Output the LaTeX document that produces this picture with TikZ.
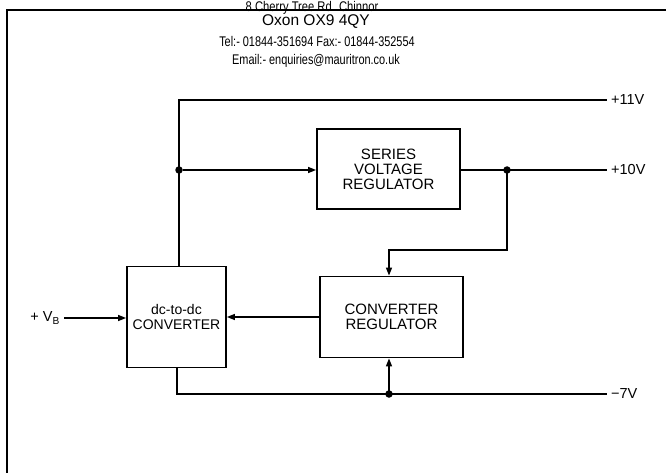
\documentclass[tikz,border=0pt]{standalone}
\usepackage{fontspec}
\setmainfont{Liberation Sans}
\usetikzlibrary{arrows.meta}
\begin{document}
\begin{tikzpicture}[x=1pt,y=-1pt,
  blk/.style={draw,line width=1.8pt,inner sep=0pt,align=center,font=\fontsize{15}{15}\selectfont},
  wire/.style={line width=1.4pt},
  arr/.style={wire,-{Triangle[length=8pt,width=6pt]}},
  jdot/.style={circle,fill,inner sep=0pt,minimum size=7.5pt},
  lbl/.style={anchor=west,font=\fontsize{14.5}{15}\selectfont,inner sep=0pt},
  hdr/.style={inner sep=0pt},
  frame/.style={line width=1.8pt}
]
\useasboundingbox (0,0) rectangle (666,473);
% frame
\coordinate (fa) at (7,473);
\coordinate (fb) at (7,10);
\coordinate (fc) at (666,10);
\draw[frame] (fa) -- (fb) -- (fc);
% header
\node[hdr,anchor=base] (h0) at (312,12) {\fontsize{14}{15}\selectfont\scalebox{0.8}[1]{8 Cherry Tree Rd. Chinnor}};
\node[hdr] (h1) at (316,22) {\fontsize{15.5}{16}\selectfont Oxon OX9 4QY};
\node[hdr] (h2) at (317,41) {\fontsize{14}{15}\selectfont\scalebox{0.78}[1]{Tel:- 01844-351694 Fax:- 01844-352554}};
\node[hdr] (h3) at (316,61) {\fontsize{14}{15}\selectfont\scalebox{0.78}[1]{Email:- enquiries@mauritron.co.uk}};
% blocks
\node[blk,minimum width=143pt,minimum height=80pt] (ser) at (388.5,169) {SERIES\\VOLTAGE\\REGULATOR};
\node[blk,minimum width=143pt,minimum height=81pt] (conv) at (391.5,317) {CONVERTER\\REGULATOR};
\node[blk,minimum width=99pt,minimum height=101pt,font=\fontsize{14}{15}\selectfont] (dc) at (176.5,317) {dc-to-dc\\CONVERTER};
% coordinates
\coordinate (t11) at (179,100);
\coordinate (e11) at (607,100);
\coordinate (e10) at (607,170);
\coordinate (c389) at (389,250);
\coordinate (b177) at (177,394);
\coordinate (e7) at (607,394);
\node[jdot] (j1) at (179,170) {};
\node[jdot] (j2) at (507,170) {};
\node[jdot] (j3) at (389,394) {};
% +11V line
\draw[wire] (dc.north -| t11) -- (t11) -- (e11);
\draw[arr] (j1) -- (j1 -| ser.west);
% +10V line
\draw[wire] (j2 -| ser.east) -- (e10);
\draw[arr] (j2.center) |- (c389) -- (c389 |- conv.north);
% converter regulator to dc-to-dc
\draw[arr] (conv.west) -- (dc.west -| dc.east);
% VB input
\node[anchor=east,inner sep=0pt,font=\fontsize{14.5}{15}\selectfont] (vb) at (60,318) {+ V\textsubscript{B}};
\draw[arr] (vb.east) ++(4,0) coordinate (vbs) -- (vbs -| dc.west);
% -7V line
\draw[wire] (dc.south -| b177) -- (b177) -- (e7);
\draw[arr] (j3.center) -- (j3 |- conv.south);
% labels
\node[lbl] (l11) at (611,100) {+11V};
\node[lbl] (l10) at (611,170) {+10V};
\node[lbl] (l7) at (611,394) {\textminus 7V};
\end{tikzpicture}
\end{document}
